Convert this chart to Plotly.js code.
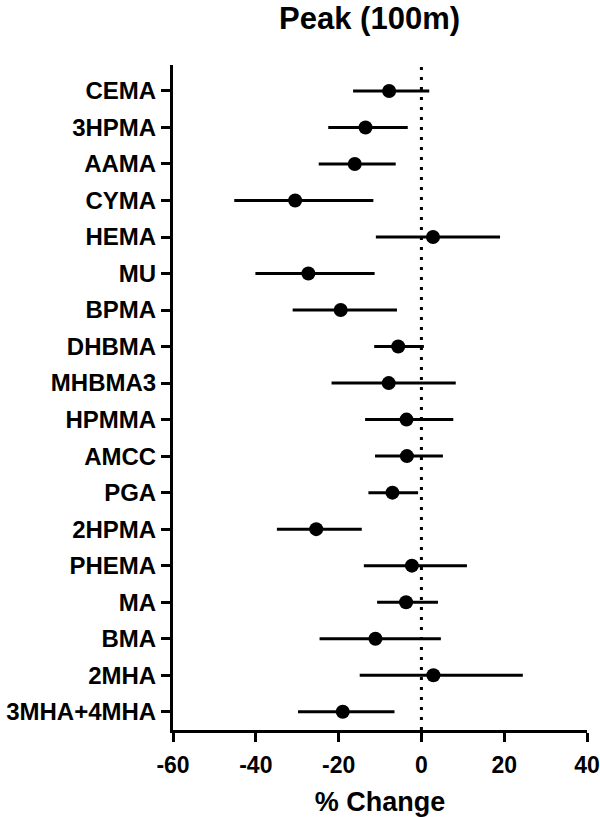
<!DOCTYPE html>
<html>
<head>
<meta charset="utf-8">
<script src="https://cdn.plot.ly/plotly-3.0.1.min.js"></script>
<style>
html,body{margin:0;padding:0;background:#fff;}
#chart{width:600px;height:817px;}
</style>
</head>
<body>
<div id="chart"></div>
<script>
const categories = ["CEMA","3HPMA","AAMA","CYMA","HEMA","MU","BPMA","DHBMA","MHBMA3","HPMMA","AMCC","PGA","2HPMA","PHEMA","MA","BMA","2MHA","3MHA+4MHA"];
const estimate = [-7.8,-13.5,-16.1,-30.5,2.8,-27.3,-19.5,-5.6,-7.9,-3.6,-3.5,-7.0,-25.4,-2.3,-3.7,-11.1,2.9,-19.0];
const lower    = [-16.5,-22.5,-24.8,-45.2,-11.0,-40.1,-31.1,-11.4,-21.7,-13.6,-11.2,-12.8,-34.9,-13.9,-10.7,-24.6,-14.9,-29.8];
const upper    = [1.9,-3.3,-6.2,-11.6,19.0,-11.3,-5.9,0.6,8.3,7.7,5.2,-0.8,-14.4,11.0,4.0,4.7,24.5,-6.5];
const xTicks = [-60,-40,-20,0,20,40];

const idx = categories.map((c,i)=>i);
const font = "Arial, 'Liberation Sans', Helvetica, sans-serif";

const trace = {
  type: 'scatter',
  mode: 'markers',
  x: estimate,
  y: idx,
  marker: {color: '#000', size: 14},
  error_x: {
    type: 'data',
    symmetric: false,
    array: upper.map((u,i)=>u-estimate[i]),
    arrayminus: lower.map((l,i)=>estimate[i]-l),
    color: '#000',
    thickness: 3,
    width: 0
  },
  hoverinfo: 'x+y',
  showlegend: false
};

const layout = {
  width: 600,
  height: 817,
  margin: {l: 173, r: 13, t: 65, b: 87},
  paper_bgcolor: '#fff',
  plot_bgcolor: '#fff',
  font: {family: font, color: '#000'},
  title: {
    text: '<b>Peak (100m)</b>',
    font: {family: font, size: 31, color: '#000'},
    x: 0.616, xanchor: 'center', xref: 'container',
    y: 0.978, yanchor: 'middle', yref: 'container'
  },
  xaxis: {
    range: [-60, 40],
    tickvals: xTicks,
    ticktext: xTicks.map(v=>'<b>'+v+'</b>'),
    ticks: 'outside', ticklen: 9, tickwidth: 3, tickcolor: '#000',
    showline: true, linewidth: 3, linecolor: '#000',
    showgrid: false, zeroline: false,
    tickfont: {family: font, size: 23, color: '#000'},
    ticklabelstandoff: 3,
    title: {text: '<b>% Change</b>', font: {family: font, size: 27, color: '#000'}, standoff: 18}
  },
  yaxis: {
    range: [17.5, -0.71],
    tickvals: idx,
    ticktext: categories.map(c=>'<b>'+c+'</b>'),
    ticks: 'outside', ticklen: 9, tickwidth: 3, tickcolor: '#000',
    showline: true, linewidth: 3, linecolor: '#000',
    showgrid: false, zeroline: false,
    tickfont: {family: font, size: 24, color: '#000'}
  },
  shapes: [{
    type: 'line', xref: 'x', yref: 'paper',
    x0: 0, x1: 0, y0: 0, y1: 1,
    line: {color: '#000', width: 3, dash: '3px,7px'},
    layer: 'below'
  }]
};

Plotly.newPlot('chart', [trace], layout, {staticPlot: true, displayModeBar: false});
</script>
</body>
</html>
